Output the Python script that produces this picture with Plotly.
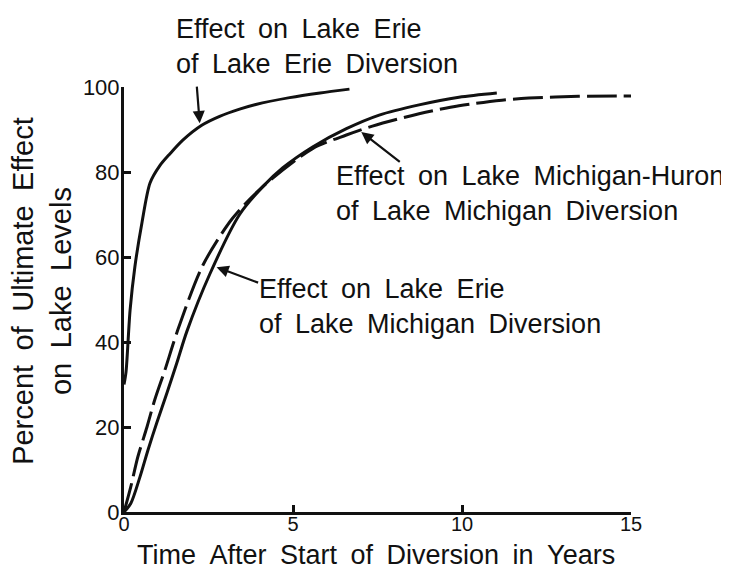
import plotly.graph_objects as go

# Effect on Lake Erie of Lake Erie diversion (solid, fast)
erie_erie_t = [0, 0.06, 0.18, 0.32, 0.53, 0.77, 1.06, 1.36, 1.74, 2.3, 2.83, 3.42, 3.9, 4.9, 5.8, 6.67]
erie_erie_pct = [30, 33, 47.5, 57.6, 68, 77.4, 81.5, 84.3, 87.5, 91.0, 93.1, 94.8, 95.9, 97.5, 98.6, 99.5]

# Effect on Lake Erie of Lake Michigan diversion (solid)
erie_mich_t = [0, 0.2, 0.47, 0.71, 0.97, 1.27, 1.56, 1.86, 2.54, 3.42, 4.1, 4.7, 5.58, 6.58, 7.55, 8.73, 9.91, 11.03]
erie_mich_pct = [0, 2, 8.2, 14.6, 21, 28, 35, 42.5, 56, 70, 76.5, 81, 85.9, 90.2, 93.4, 95.8, 97.6, 98.6]

# Effect on Lake Michigan-Huron of Lake Michigan diversion (dashed)
mh_mich_t = [0, 0.2, 0.41, 0.68, 0.91, 1.21, 1.59, 2.33, 3.2, 4.1, 5.58, 6.58, 7.35, 8.73, 9.91, 11.18, 11.98, 13.45, 15]
mh_mich_pct = [0, 5.9, 13, 20, 26.4, 33.4, 42.8, 58, 69, 76.5, 85.5, 88.7, 90.8, 93.7, 95.6, 96.9, 97.4, 97.8, 97.9]

x_ticks = [0, 5, 10, 15]
y_ticks = [0, 20, 40, 60, 80, 100]

FONT = "Liberation Sans, Arial, Helvetica, sans-serif"
INK = "#111111"
SP = "\u2002"  # the original lettering has wide word gaps


def spaced(s):
    return s.replace(" ", SP)


fig = go.Figure()
fig.add_trace(go.Scatter(x=erie_erie_t, y=erie_erie_pct, mode="lines",
                         line=dict(color=INK, width=3, shape="spline", smoothing=0.8)))
fig.add_trace(go.Scatter(x=erie_mich_t, y=erie_mich_pct, mode="lines",
                         line=dict(color=INK, width=3, shape="spline", smoothing=0.8)))
fig.add_trace(go.Scatter(x=mh_mich_t, y=mh_mich_pct, mode="lines",
                         line=dict(color=INK, width=3, shape="spline", smoothing=0.8,
                                   dash="30px,7px")))

# curve labels (paper coords, left aligned)
labels = [
    ("Effect on Lake Erie<br>of Lake Erie Diversion", 0.0988, 1.095),
    ("Effect on Lake Michigan-Huron<br>of Lake Michigan Diversion", 0.414, 0.750),
    ("Effect on Lake Erie<br>of Lake Michigan Diversion", 0.262, 0.483),
]
for txt, xp, yp in labels:
    fig.add_annotation(text=spaced(txt), xref="paper", yref="paper", x=xp, y=yp,
                       xanchor="left", yanchor="middle", align="left", showarrow=False,
                       font=dict(size=27, color=INK, family=FONT))

# arrows pointing at the curves
arrows = [(2.24, 91.5, -3, -38), (7.02, 89.4, 40, 31), (2.74, 57.6, 43, 16)]
for xa, ya, dx, dy in arrows:
    fig.add_annotation(x=xa, y=ya, xref="x", yref="y", text="", showarrow=True,
                       ax=dx, ay=dy, arrowhead=2, arrowsize=1.1, arrowwidth=2.2,
                       arrowcolor=INK, standoff=0)

# axis titles
fig.add_annotation(text=spaced("Time After Start of Diversion in Years"), xref="paper", yref="paper",
                   x=0.497, y=-0.1, xanchor="center", yanchor="middle", showarrow=False,
                   font=dict(size=27, color=INK, family=FONT))
fig.add_annotation(text=spaced("Percent of Ultimate Effect<br>on Lake Levels"), xref="paper", yref="paper",
                   x=-0.162, y=0.520, xanchor="center", yanchor="middle", showarrow=False,
                   textangle=-90, font=dict(size=29, color=INK, family=FONT))

axis_style = dict(showgrid=False, zeroline=False, showline=True, linecolor=INK, linewidth=3,
                  ticks="inside", ticklen=7, tickwidth=2.5, tickcolor=INK)
fig.update_xaxes(range=[0, 15], tickvals=x_ticks, ticklabelstandoff=-8,
                 tickfont=dict(size=20, color=INK, family=FONT), **axis_style)
fig.update_yaxes(range=[0, 100], tickvals=y_ticks, ticklabelstandoff=-3,
                 tickfont=dict(size=22, color=INK, family=FONT), **axis_style)

# page body adds an 8px margin, so the figure is 8px smaller than the window
fig.update_layout(width=721, height=561, showlegend=False,
                  margin=dict(l=116, r=98, t=79, b=57, autoexpand=False),
                  paper_bgcolor="white", plot_bgcolor="white",
                  font=dict(family=FONT, color=INK))

fig.write_html("out.html")
